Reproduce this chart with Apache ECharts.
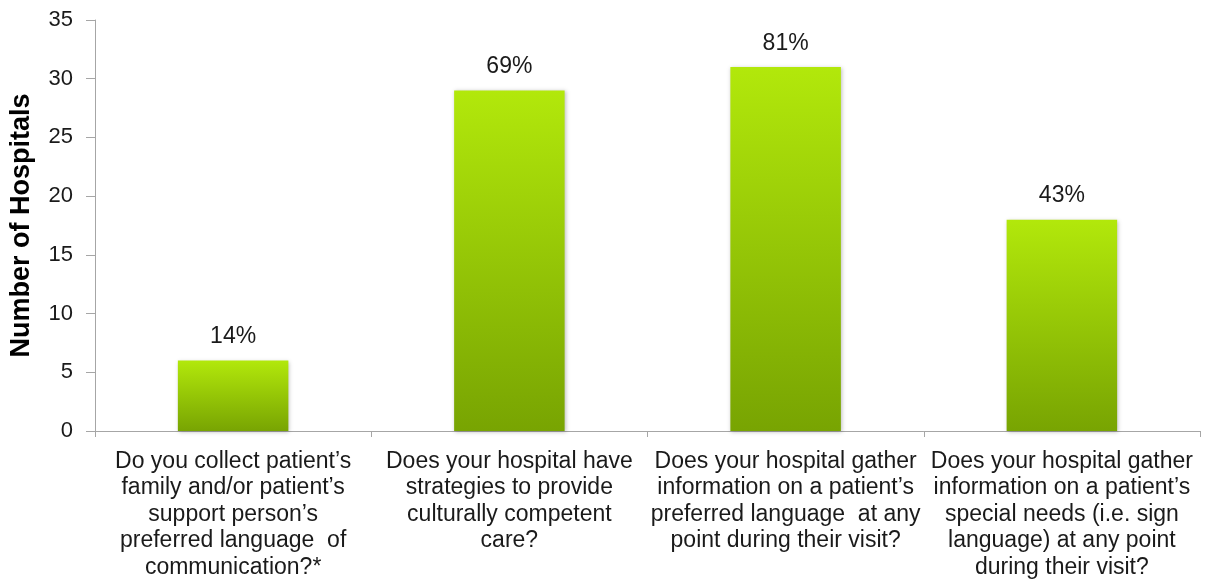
<!DOCTYPE html>
<html>
<head>
<meta charset="utf-8">
<script src="https://cdn.jsdelivr.net/npm/echarts@6/dist/echarts.min.js"></script>
<style>
html,body{margin:0;padding:0;background:#fff;}
#c{width:1206px;height:581px;}
</style>
</head>
<body>
<div id="c"></div>
<script>
var categories = [
  "Do you collect patient\u2019s\nfamily and/or patient\u2019s\nsupport person\u2019s\npreferred language  of\ncommunication?*",
  "Does your hospital have\nstrategies to provide\nculturally competent\ncare?",
  "Does your hospital gather\ninformation on a patient\u2019s\npreferred language  at any\npoint during their visit?",
  "Does your hospital gather\ninformation on a patient\u2019s\nspecial needs (i.e. sign\nlanguage) at any point\nduring their visit?"
];
var hospitals = [6, 29, 31, 18];
var percentLabels = ["14%", "69%", "81%", "43%"];
var yTicks = {min: 0, max: 35, interval: 5};

var FONT = 'Liberation Sans, Arial, sans-serif';
var chart = echarts.init(document.getElementById('c'));
chart.setOption({
  animation: false,
  grid: {left: 95, right: 6, top: 20, bottom: 150},
  xAxis: {
    type: 'category',
    data: categories,
    axisLine: {lineStyle: {color: '#a6a6a6', width: 1}},
    axisTick: {show: true, length: 6, lineStyle: {color: '#a6a6a6'}},
    axisLabel: {
      interval: 0,
      color: '#1a1a1a',
      fontFamily: FONT,
      fontSize: 23,
      lineHeight: 26.5,
      margin: 17,
      overflow: 'none'
    }
  },
  yAxis: {
    type: 'value',
    min: yTicks.min, max: yTicks.max, interval: yTicks.interval,
    name: 'Number of Hospitals',
    nameLocation: 'middle',
    nameGap: 60,
    nameTextStyle: {fontFamily: FONT, fontSize: 27, fontWeight: 'bold', color: '#000'},
    axisLine: {show: true, lineStyle: {color: '#a6a6a6'}},
    axisTick: {show: true, length: 9, lineStyle: {color: '#a6a6a6'}},
    splitLine: {show: false},
    axisLabel: {color: '#1a1a1a', fontFamily: FONT, fontSize: 22, margin: 22}
  },
  series: [{
    type: 'bar',
    data: hospitals,
    barWidth: '40%',
    itemStyle: {
      color: new echarts.graphic.LinearGradient(0, 0, 0, 1, [
        {offset: 0, color: '#b2e80b'},
        {offset: 1, color: '#78a402'}
      ]),
      shadowColor: 'rgba(0,0,0,0.25)',
      shadowBlur: 4,
      shadowOffsetX: 1,
      shadowOffsetY: 1
    },
    label: {
      show: true,
      position: 'top',
      distance: 12,
      formatter: function (p) { return percentLabels[p.dataIndex]; },
      color: '#1a1a1a',
      fontFamily: FONT,
      fontSize: 23
    }
  }]
});
</script>
</body>
</html>
